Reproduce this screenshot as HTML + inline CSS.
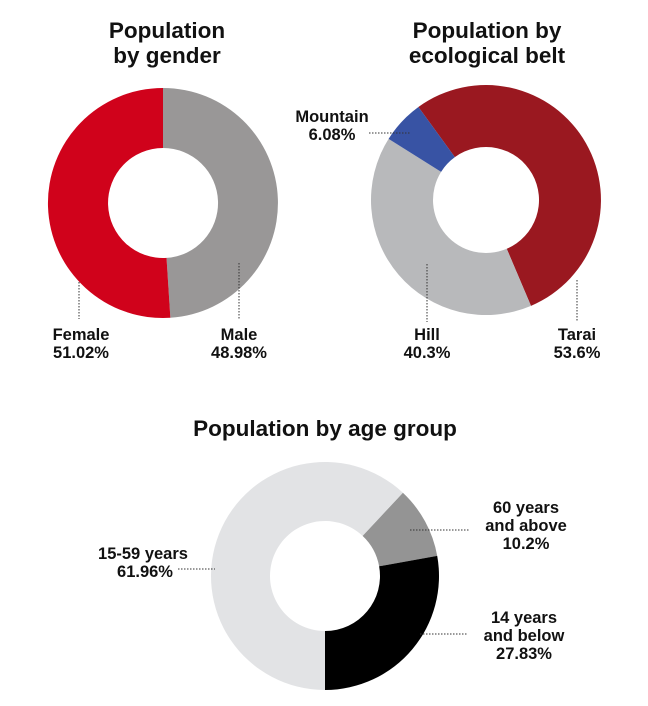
<!DOCTYPE html>
<html><head><meta charset="utf-8"><style>
html,body{margin:0;padding:0;background:#fff;width:648px;height:706px;overflow:hidden}
svg text{font-family:"Liberation Sans",sans-serif;font-weight:bold;fill:#111}
</style></head><body>
<svg id="s" width="648" height="706" viewBox="0 0 648 706">
<g font-size="22.5" text-anchor="middle">
<text x="167" y="38">Population</text><text x="167" y="63">by gender</text>
<text x="487" y="38">Population by</text><text x="487" y="63">ecological belt</text>
<text x="325" y="436">Population by age group</text>
</g>
<g font-size="16.5" text-anchor="middle">
<text x="81" y="340">Female</text><text x="81" y="358">51.02%</text>
<text x="239" y="340">Male</text><text x="239" y="358">48.98%</text>
<text x="427" y="340">Hill</text><text x="427" y="358">40.3%</text>
<text x="577" y="340">Tarai</text><text x="577" y="358">53.6%</text>
<text x="332" y="122">Mountain</text><text x="332" y="140">6.08%</text>
<text x="143" y="559">15-59 years</text><text x="145" y="577">61.96%</text>
<text x="526" y="513">60 years</text><text x="526" y="531">and above</text><text x="526" y="549">10.2%</text>
<text x="524" y="623">14 years</text><text x="524" y="641">and below</text><text x="524" y="659">27.83%</text>
</g>
<g id="arcs"></g>
<g stroke="#333" stroke-width="1" stroke-dasharray="1.5,1.5" fill="none">
<line x1="79" y1="282" x2="79" y2="319"/>
<line x1="239" y1="263" x2="239" y2="320"/>
<line x1="427" y1="264" x2="427" y2="322"/>
<line x1="577" y1="280" x2="577" y2="322"/>
<line x1="369" y1="133" x2="410" y2="133"/>
<line x1="178" y1="569" x2="215" y2="569"/>
<line x1="410" y1="530" x2="470" y2="530"/>
<line x1="420" y1="634" x2="468" y2="634"/>
</g>
</svg>
<script>
function arc(cx,cy,R,r,a0,a1,c){
 function p(rad,a){var t=(a-90)*Math.PI/180;return (cx+rad*Math.cos(t)).toFixed(2)+","+(cy+rad*Math.sin(t)).toFixed(2);}
 var l=(a1-a0)>180?1:0;
 var d="M"+p(R,a0)+" A"+R+","+R+" 0 "+l+" 1 "+p(R,a1)+" L"+p(r,a1)+" A"+r+","+r+" 0 "+l+" 0 "+p(r,a0)+"Z";
 var e=document.createElementNS("http://www.w3.org/2000/svg","path");
 e.setAttribute("d",d);e.setAttribute("fill",c);document.getElementById("arcs").appendChild(e);
}
var f=51.02*3.6;
arc(163,203,115,55,0,360-f,"#999797");
arc(163,203,115,55,360-f,360,"#d0021b");
var t0=-36,t1=t0+53.6*3.6,m0=t0-6.08*3.6;
arc(486,200,115,53,t0,t1,"#9a1820");
arc(486,200,115,53,t1,m0+360,"#b8b9bb");
arc(486,200,115,53,m0,t0,"#3853a4");
var a0=43.1,a1=a0+10.2*3.6,a2=a1+27.83*3.6;
arc(325,576,114,55,a0,a1,"#949494");
arc(325,576,114,55,a1,a2,"#000000");
arc(325,576,114,55,a2,a0+360,"#e2e3e5");
</script>
</body></html>
